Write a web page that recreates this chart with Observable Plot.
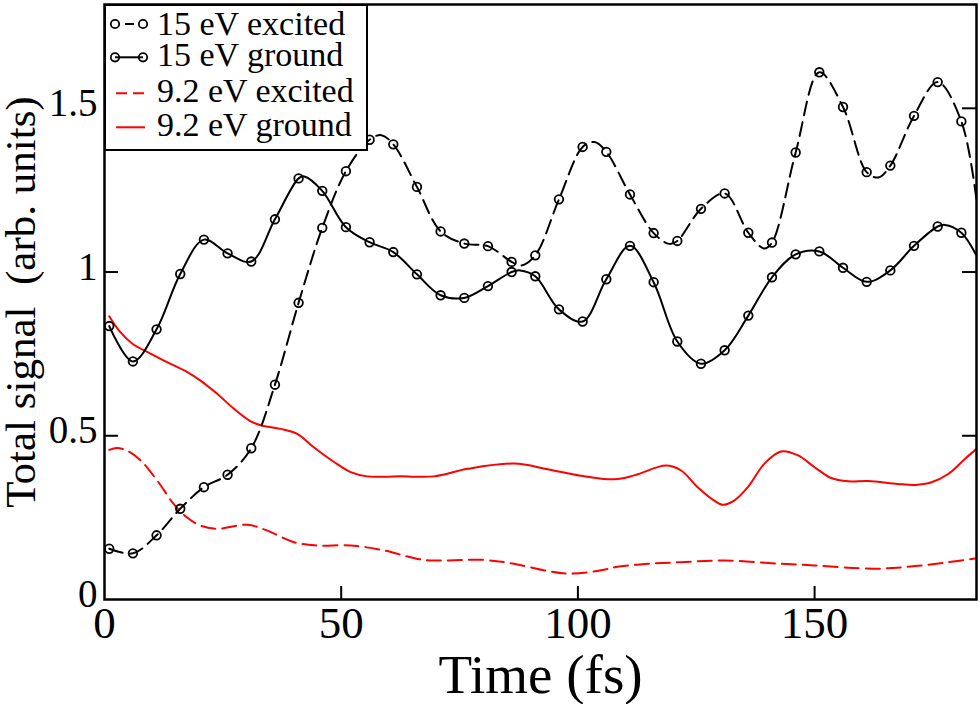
<!DOCTYPE html>
<html>
<head>
<meta charset="utf-8">
<script src="https://cdn.jsdelivr.net/npm/d3@7"></script>
<script src="https://cdn.jsdelivr.net/npm/@observablehq/plot@0.6"></script>
<style>
  html, body { margin: 0; padding: 0; background: #fff; }
  #wrap { position: relative; width: 980px; height: 704px; }
  #legend { position: absolute; left: 104px; top: 4px; }
  text { font-family: "Liberation Serif", "DejaVu Serif", serif; }
</style>
</head>
<body>
<div id="wrap"><div id="chart"></div><div id="legend"></div></div>
<script>
// ---- Data ----
const markerT = [1, 6, 11, 16, 21, 26, 31, 36, 41, 46, 51, 56, 61, 66, 71, 76, 81, 86, 91, 96,
                 101, 106, 111, 116, 121, 126, 131, 136, 141, 146, 151, 156, 161, 166, 171, 176, 181];

// 15 eV excited (black dashed, circles)
const excited15V = [0.155, 0.141, 0.196, 0.277, 0.343, 0.381, 0.462, 0.656, 0.906, 1.135,
                    1.308, 1.404, 1.390, 1.260, 1.124, 1.087, 1.079, 1.031, 1.051, 1.222,
                    1.382, 1.367, 1.237, 1.119, 1.095, 1.193, 1.240, 1.120, 1.090, 1.365,
                    1.610, 1.504, 1.305, 1.325, 1.477, 1.580, 1.460];
// extra curve points between markers (peaks, troughs, end)
const excited15ExtraT = [58.5, 88, 103.5, 119.3, 139.3, 163.5, 184.2];
const excited15ExtraV = [1.418, 1.020, 1.397, 1.086, 1.072, 1.289, 1.22];

// 15 eV ground (black solid, circles)
const ground15V = [0.835, 0.727, 0.825, 0.994, 1.099, 1.057, 1.032, 1.161, 1.286, 1.248,
                   1.137, 1.091, 1.061, 0.993, 0.929, 0.921, 0.957, 1.000, 0.987, 0.886,
                   0.849, 0.978, 1.080, 0.969, 0.788, 0.720, 0.761, 0.867, 0.984, 1.054,
                   1.063, 1.013, 0.970, 1.005, 1.080, 1.139, 1.120];
const ground15ExtraT = [42.2, 87.8, 177.5, 184.2];
const ground15ExtraV = [1.292, 1.005, 1.144, 1.05];

// 9.2 eV excited (red dashed)
const excited92T = [1, 2.6, 4.7, 7.6, 11.1, 14.6, 17.4, 20.2, 23.8, 30.1, 34.3, 40, 45, 52, 59,
                    66.1, 69.6, 80, 86.5, 93.6, 98.5, 104.9, 108, 114.7, 121.8, 130.9, 142.9,
                    150, 162.7, 171.2, 178.3, 184.2];
const excited92V = [0.457, 0.463, 0.455, 0.425, 0.364, 0.292, 0.251, 0.226, 0.216, 0.228, 0.211,
                    0.175, 0.165, 0.165, 0.150, 0.124, 0.119, 0.121, 0.109, 0.087, 0.079, 0.089,
                    0.099, 0.109, 0.114, 0.119, 0.109, 0.104, 0.094, 0.102, 0.114, 0.126];

// 9.2 eV ground (red solid)
const ground92T = [1, 3.3, 5.9, 9.7, 13.2, 17.4, 20.2, 23.8, 27.3, 30.8, 33, 37.2, 40.7, 44.2,
                   48.5, 52, 55.5, 62.6, 69.6, 76.7, 86.5, 93.6, 100.6, 107.7, 111.9, 118.6,
                   121.8, 125.3, 128.8, 130.6, 133, 135.9, 139.4, 142.9, 146.5, 150, 153.5,
                   157.1, 161.3, 167.6, 171.2, 174.7, 178.3, 181.8, 184.2];
const ground92V = [0.865, 0.817, 0.781, 0.751, 0.725, 0.695, 0.669, 0.628, 0.583, 0.545, 0.532,
                   0.521, 0.506, 0.465, 0.420, 0.389, 0.376, 0.376, 0.376, 0.399, 0.415, 0.398,
                   0.378, 0.367, 0.379, 0.409, 0.394, 0.343, 0.302, 0.289, 0.302, 0.343, 0.415,
                   0.452, 0.440, 0.404, 0.371, 0.361, 0.362, 0.353, 0.350, 0.358, 0.384, 0.430,
                   0.460];

const xTickValues = [0, 50, 100, 150];
const yTickValues = [0, 0.5, 1, 1.5];
const xTitle = "Time (fs)";
const yTitle = "Total signal\u00a0 (arb. units)";
const legendLabels = ["15 eV excited", "15 eV ground", "9.2 eV excited", "9.2 eV ground"];

// ---- Build tables ----
const zip = (T, V) => T.map((t, i) => ({t, v: V[i]}));
const byT = (a, b) => a.t - b.t;
const excited15Markers = zip(markerT, excited15V);
const ground15Markers = zip(markerT, ground15V);
const excited15Line = [...excited15Markers, ...zip(excited15ExtraT, excited15ExtraV)].sort(byT);
const ground15Line = [...ground15Markers, ...zip(ground15ExtraT, ground15ExtraV)].sort(byT);
const excited92 = zip(excited92T, excited92V);
const ground92 = zip(ground92T, ground92V);

const W = 980, H = 704, mL = 104, mR = 4, mT = 4, mB = 105;
const plotW = W - mL - mR, plotH = H - mT - mB;
const font = "Liberation Serif";
const dash = "14,7";

const chart = Plot.plot({
  width: W, height: H,
  marginLeft: mL, marginRight: mR, marginTop: mT, marginBottom: mB,
  x: {domain: [0, 184.2]},
  y: {domain: [0, 1.817]},
  style: {fontFamily: font, background: "#fff", color: "#000", overflow: "visible"},
  marks: [
    Plot.line(ground92, {x: "t", y: "v", stroke: "#ff0000", strokeWidth: 2, curve: "catmull-rom"}),
    Plot.line(excited92, {x: "t", y: "v", stroke: "#ff0000", strokeWidth: 2, strokeDasharray: dash, curve: "catmull-rom"}),
    Plot.line(ground15Line, {x: "t", y: "v", stroke: "#000", strokeWidth: 2, curve: "catmull-rom"}),
    Plot.line(excited15Line, {x: "t", y: "v", stroke: "#000", strokeWidth: 2, strokeDasharray: dash, curve: "catmull-rom"}),
    Plot.dot(ground15Markers, {x: "t", y: "v", r: 4.3, stroke: "#000", strokeWidth: 1.8, fill: "none"}),
    Plot.dot(excited15Markers, {x: "t", y: "v", r: 4.3, stroke: "#000", strokeWidth: 1.8, fill: "none"}),
    // inward ticks
    Plot.tickY(yTickValues.slice(1), {y: d => d, insetRight: plotW - 14, stroke: "#000", strokeWidth: 2}),
    Plot.tickY(yTickValues.slice(1), {y: d => d, insetLeft: plotW - 14, stroke: "#000", strokeWidth: 2}),
    Plot.tickX(xTickValues.slice(1), {x: d => d, insetTop: plotH - 13, stroke: "#000", strokeWidth: 2}),
    Plot.frame({stroke: "#000", strokeWidth: 2.5}),
    Plot.axisY({ticks: yTickValues, tickSize: 0, tickPadding: 7, tickFormat: d => String(d),
                fontSize: 39, dy: -5, label: null, fontFamily: font}),
    Plot.axisX({ticks: xTickValues, tickSize: 0, tickPadding: 7, tickFormat: d => String(d),
                fontSize: 45, label: null, fontFamily: font}),
    Plot.text([xTitle], {frameAnchor: "bottom", dy: 93, fontSize: 55, lineAnchor: "bottom",
                         textAnchor: "middle", fontFamily: font, fill: "#000"}),
    Plot.text([yTitle], {frameAnchor: "left", dx: -70, rotate: -90, fontSize: 43, lineAnchor: "bottom",
                         textAnchor: "middle", fontFamily: font, fill: "#000"})
  ]
});
document.getElementById("chart").appendChild(chart);

// ---- Legend (inside the top-left corner of the frame) ----
const rowLineY = [20, 53.3, 89.3, 123.3];
const rowTextY = [30.5, 61.5, 97.5, 131.5];
let s = `<svg width="265" height="148" xmlns="http://www.w3.org/2000/svg">`;
s += `<rect x="1" y="1" width="262" height="145" fill="#fff" stroke="#000" stroke-width="2"/>`;
// row 1: 15 eV excited
s += `<line x1="21" x2="30" y1="${rowLineY[0]}" y2="${rowLineY[0]}" stroke="#000" stroke-width="2"/>`;
s += `<circle cx="11" cy="${rowLineY[0]}" r="4.2" fill="none" stroke="#000" stroke-width="1.8"/>`;
s += `<circle cx="39" cy="${rowLineY[0]}" r="4.2" fill="none" stroke="#000" stroke-width="1.8"/>`;
// row 2: 15 eV ground
s += `<line x1="11" x2="39" y1="${rowLineY[1]}" y2="${rowLineY[1]}" stroke="#000" stroke-width="2"/>`;
s += `<circle cx="11" cy="${rowLineY[1]}" r="4.2" fill="none" stroke="#000" stroke-width="1.8"/>`;
s += `<circle cx="39" cy="${rowLineY[1]}" r="4.2" fill="none" stroke="#000" stroke-width="1.8"/>`;
// row 3: 9.2 eV excited
s += `<line x1="12" x2="41" y1="${rowLineY[2]}" y2="${rowLineY[2]}" stroke="#ff0000" stroke-width="2" stroke-dasharray="11,6"/>`;
// row 4: 9.2 eV ground
s += `<line x1="12" x2="41" y1="${rowLineY[3]}" y2="${rowLineY[3]}" stroke="#ff0000" stroke-width="2"/>`;
legendLabels.forEach((lab, i) => {
  s += `<text x="53" y="${rowTextY[i]}" font-size="34" font-family="Liberation Serif" fill="#000">${lab}</text>`;
});
s += `</svg>`;
document.getElementById("legend").innerHTML = s;
</script>
</body>
</html>
